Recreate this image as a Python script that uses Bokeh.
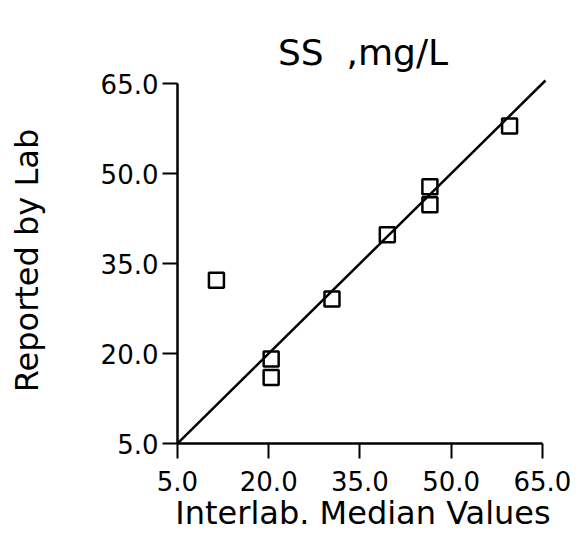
from bokeh.plotting import figure
from bokeh.embed import file_html
from bokeh.resources import INLINE
from bokeh.models import Range1d, FixedTicker

# Data
median_values = [11.4, 20.4, 20.4, 30.4, 39.5, 46.5, 46.5, 59.6]
reported_values = [32.2, 19.1, 16.0, 29.1, 39.8, 47.8, 44.8, 57.9]
ticks = [5, 20, 35, 50, 65]
line_x = [5, 65.5]
line_y = [5, 65.5]
title_text = "SS\u00a0\u00a0,mg/L"

FONT = "DejaVu Sans"

p = figure(width=583, height=536, output_backend="svg", toolbar_location=None,
           x_range=Range1d(5, 66), y_range=Range1d(5, 66),
           min_border_left=177, min_border_right=35,
           min_border_top=77, min_border_bottom=93,
           title=title_text)

p.title.text_font = FONT
p.title.text_font_size = "36px"
p.title.text_font_style = "normal"
p.title.text_color = "black"
p.title.align = "center"
p.title.offset = -26
p.title.standoff = 10

p.grid.visible = False
p.outline_line_color = None
p.background_fill_color = "white"
p.border_fill_color = "white"

for ax in (p.xaxis[0], p.yaxis[0]):
    ax.ticker = FixedTicker(ticks=ticks)
    ax.bounds = (5, 65)
    ax.minor_tick_line_color = None
    ax.major_tick_in = 0
    ax.major_tick_out = 15
    ax.major_tick_line_width = 2
    ax.major_tick_line_color = "black"
    ax.axis_line_width = 2.5
    ax.axis_line_color = "black"
    ax.major_label_text_font = FONT
    ax.major_label_text_font_size = "26px"
    ax.major_label_text_color = "black"
    ax.axis_label_text_font = FONT
    ax.axis_label_text_font_size = "32px"
    ax.axis_label_text_font_style = "normal"
    ax.axis_label_text_color = "black"

p.xaxis[0].major_label_overrides = {t: f"{t:.1f}" for t in ticks}
p.yaxis[0].major_label_overrides = {t: f"{t:.1f}" for t in ticks}
p.xaxis.axis_label = "Interlab. Median Values"
p.yaxis.axis_label = "Reported by Lab"
p.xaxis.major_label_standoff = 12
p.yaxis.major_label_standoff = 4
p.xaxis.axis_label_standoff = 0
p.yaxis.axis_label_standoff = 52

p.line(line_x, line_y, line_color="black", line_width=2.5)
p.scatter(median_values, reported_values, marker="square", size=15,
          fill_color=None, line_color="black", line_width=2.5)

open("out.html", "w").write(file_html(p, INLINE))
